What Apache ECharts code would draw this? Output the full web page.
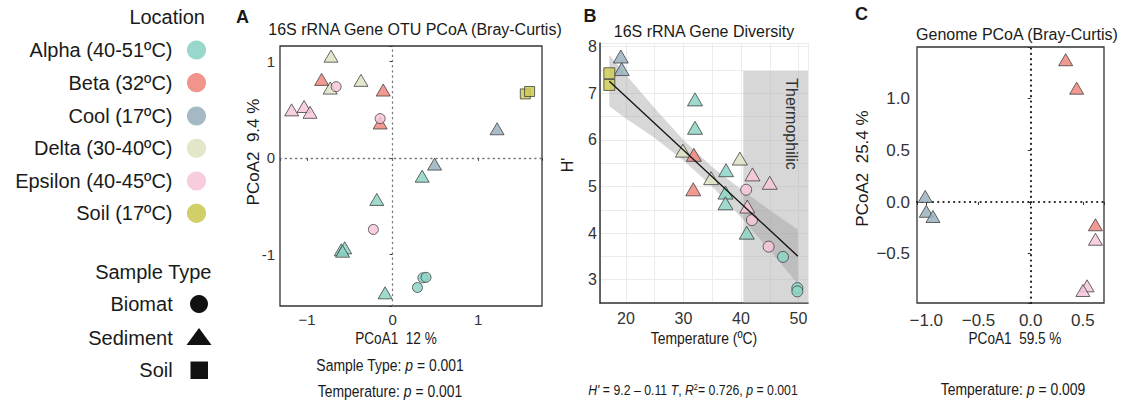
<!DOCTYPE html>
<html>
<head>
<meta charset="utf-8">
<script src="https://cdn.jsdelivr.net/npm/echarts@6/dist/echarts.min.js"></script>
<style>
  html, body { margin: 0; padding: 0; background: #ffffff; }
  #chart { width: 1122px; height: 406px; }
</style>
</head>
<body>
<div id="chart"></div>
<script>
// ---------- categories ----------
const locationKeys = ['Alpha', 'Beta', 'Cool', 'Delta', 'Epsilon', 'Soil'];
const locationLabels = ['Alpha (40-51ºC)', 'Beta (32ºC)', 'Cool (17ºC)', 'Delta (30-40ºC)', 'Epsilon (40-45ºC)', 'Soil (17ºC)'];
const sampleTypes = ['Biomat', 'Sediment', 'Soil'];

// ---------- A: 16S rRNA gene OTU PCoA ----------
const otuLocation = ['Delta', 'Beta', 'Delta', 'Epsilon', 'Delta', 'Beta', 'Epsilon', 'Epsilon', 'Epsilon', 'Beta', 'Epsilon',
  'Alpha', 'Epsilon', 'Alpha', 'Alpha', 'Alpha', 'Alpha', 'Alpha', 'Alpha', 'Alpha', 'Alpha', 'Cool', 'Cool', 'Soil', 'Soil'];
const otuType = ['Sediment', 'Sediment', 'Sediment', 'Biomat', 'Sediment', 'Sediment', 'Sediment', 'Sediment', 'Sediment', 'Sediment', 'Biomat',
  'Sediment', 'Biomat', 'Sediment', 'Sediment', 'Sediment', 'Sediment', 'Biomat', 'Biomat', 'Biomat', 'Sediment', 'Sediment', 'Sediment', 'Soil', 'Soil'];
const otuPCoA1 = [-0.72, -0.83, -0.73, -0.66, -0.37, -0.11, -1.18, -1.035, -0.965, -0.146, -0.146,
  -0.185, -0.225, -0.60, -0.56, -0.585, -0.088, 0.353, 0.39, 0.29, 0.345, 0.49, 1.22, 1.55, 1.60];
const otuPCoA2 = [1.05, 0.81, 0.72, 0.735, 0.80, 0.70, 0.495, 0.53, 0.47, 0.36, 0.405,
  -0.43, -0.74, -0.95, -0.93, -0.965, -1.395, -1.24, -1.235, -1.34, -0.19, -0.065, 0.30, 0.66, 0.685];
const otuTicksX = [-1, 0, 1];
const otuTicksY = [-1, 0, 1];

// ---------- B: 16S rRNA gene diversity vs temperature ----------
const divLocation = ['Cool', 'Cool', 'Soil', 'Soil', 'Alpha', 'Alpha', 'Delta', 'Beta', 'Beta', 'Delta', 'Alpha', 'Delta',
  'Epsilon', 'Epsilon', 'Alpha', 'Alpha', 'Epsilon', 'Epsilon', 'Epsilon', 'Alpha', 'Epsilon', 'Alpha', 'Alpha', 'Alpha'];
const divType = ['Sediment', 'Sediment', 'Soil', 'Soil', 'Sediment', 'Sediment', 'Sediment', 'Sediment', 'Sediment', 'Sediment', 'Sediment', 'Sediment',
  'Sediment', 'Sediment', 'Sediment', 'Sediment', 'Biomat', 'Sediment', 'Biomat', 'Sediment', 'Biomat', 'Biomat', 'Biomat', 'Biomat'];
const divTemperature = [19.1, 19.25, 17.1, 17.1, 32.0, 32.0, 29.9, 31.8, 31.7, 34.8, 37.4, 39.8,
  42.0, 45.0, 37.3, 37.3, 40.9, 41.1, 41.9, 41.0, 44.8, 47.3, 49.8, 49.8];
const divShannon = [7.79, 7.52, 7.43, 7.18, 6.87, 6.26, 5.77, 5.68, 4.94, 5.18, 5.35, 5.60,
  5.26, 5.08, 4.87, 4.64, 4.93, 4.57, 4.28, 4.01, 3.71, 3.49, 2.82, 2.75];
const divTicksX = [20, 30, 40, 50];
const divTicksY = [3, 4, 5, 6, 7, 8];

// linear fit H' = a + b T and its confidence band
const fitIntercept = 9.22;
const fitSlope = -0.1146;
const fitR2 = 0.726;
const fitP = 0.001;
const fitTempRange = [17.1, 49.9];
const bandTemp  = [17.1, 20, 25, 30, 35, 40, 45, 49.9];
const bandUpper = [7.82, 7.40, 6.68, 6.00, 5.42, 4.94, 4.49, 4.07];
const bandLower = [6.72, 6.46, 6.04, 5.56, 5.00, 4.34, 3.63, 2.91];
// thermophilic range shading
const thermoStart = 40.4;
const thermoTop = 7.48;

// ---------- C: genome PCoA ----------
const genLocation = ['Beta', 'Beta', 'Cool', 'Cool', 'Cool', 'Beta', 'Epsilon', 'Epsilon', 'Epsilon'];
const genType = ['Sediment', 'Sediment', 'Sediment', 'Sediment', 'Sediment', 'Sediment', 'Sediment', 'Sediment', 'Sediment'];
const genPCoA1 = [0.335, 0.44, -1.01, -1.0, -0.936, 0.62, 0.62, 0.54, 0.50];
const genPCoA2 = [1.375, 1.10, 0.054, -0.09, -0.14, -0.22, -0.36, -0.81, -0.855];
const genTicksX = [-1, -0.5, 0, 0.5];
const genTicksY = [-0.5, 0, 0.5, 1];

// ---------- styling ----------
const locationColors = ['#8dd3c5', '#f0887e', '#9ab1be', '#e1e3c4', '#f7c6dc', '#cdca58'];
const typeSymbols = ['circle', 'triangle', 'rect'];
const FONT = "'Liberation Sans', Arial, Helvetica, sans-serif";
const INK = '#1a1a1a';
const NARROW_SCALE = 0.82;

function tickText(ticks, v, digits, minus) {
  const t = ticks.find(t => Math.abs(t - v) < 1e-6);
  if (t === undefined) return '';
  const s = Math.abs(t).toFixed(digits);
  return t < 0 ? minus + s : s;
}

const series = [];
function addScatter(axisIndex, locs, types, xs, ys, sizes) {
  const order = [];
  const groups = {};
  xs.forEach((x, i) => {
    const key = locs[i] + '|' + types[i];
    if (!groups[key]) { groups[key] = []; order.push(key); }
    groups[key].push([x, ys[i]]);
  });
  order.forEach(key => {
    const [loc, type] = key.split('|');
    const li = locationKeys.indexOf(loc);
    const ti = sampleTypes.indexOf(type);
    series.push({
      type: 'scatter', xAxisIndex: axisIndex, yAxisIndex: axisIndex,
      data: groups[key], symbol: typeSymbols[ti], symbolSize: sizes[ti],
      itemStyle: { color: locationColors[li], opacity: 0.85, borderColor: '#3a3a3a', borderWidth: 0.9 },
      z: 5, silent: true, animation: false
    });
  });
}

// dotted zero reference lines (A and C)
function zeroLines(axisIndex, style) {
  series.push({
    type: 'scatter', xAxisIndex: axisIndex, yAxisIndex: axisIndex, data: [], z: 2, silent: true,
    markLine: {
      silent: true, symbol: 'none', animation: false, label: { show: false },
      lineStyle: style,
      data: [{ xAxis: 0 }, { yAxis: 0 }]
    }
  });
}

zeroLines(0, { type: [1.2, 4], color: '#777', width: 1.3, cap: 'round' });
zeroLines(2, { type: [0.1, 5.2], color: '#222', width: 2.2, cap: 'round' });

// thermophilic shading (B)
series.push({
  type: 'scatter', xAxisIndex: 1, yAxisIndex: 1, data: [], z: 1, silent: true,
  markArea: {
    silent: true, animation: false, label: { show: false },
    itemStyle: { color: 'rgba(175,175,175,0.5)' },
    data: [[{ xAxis: thermoStart, yAxis: 2.5 }, { xAxis: 51.65, yAxis: thermoTop }]]
  }
});

// confidence band (B)
series.push({
  type: 'custom', xAxisIndex: 1, yAxisIndex: 1, data: [0], z: 3, silent: true, animation: false,
  renderItem: (params, api) => {
    const pts = [];
    bandTemp.forEach((t, i) => pts.push(api.coord([t, bandUpper[i]])));
    for (let i = bandTemp.length - 1; i >= 0; i--) pts.push(api.coord([bandTemp[i], bandLower[i]]));
    return { type: 'polygon', shape: { points: pts }, style: { fill: 'rgba(150,150,150,0.38)' } };
  }
});

addScatter(0, otuLocation, otuType, otuPCoA1, otuPCoA2, [10, [14, 12], 10]);
addScatter(1, divLocation, divType, divTemperature, divShannon, [11, [15, 13], 11]);
addScatter(2, genLocation, genType, genPCoA1, genPCoA2, [10, [14, 12], 10]);

// regression line (B)
series.push({
  type: 'line', xAxisIndex: 1, yAxisIndex: 1, z: 10, silent: true, animation: false,
  symbol: 'none', lineStyle: { color: '#111', width: 1.3 },
  data: fitTempRange.map(t => [t, fitIntercept + fitSlope * t])
});

// ---------- axes ----------
const frameGrid = { show: true, borderColor: '#333', borderWidth: 1.3, backgroundColor: 'transparent' };
const grids = [
  Object.assign({ left: 280, top: 46, width: 262, height: 260 }, frameGrid),
  { left: 600, top: 43, width: 208, height: 260, show: false },
  Object.assign({ left: 917, top: 47, width: 187, height: 256 }, frameGrid)
];

function frameAxis(extra) {
  return Object.assign({
    type: 'value',
    axisLine: { show: false },
    axisTick: { show: true, length: 3, lineStyle: { color: '#333', width: 1 } },
    splitLine: { show: false }
  }, extra);
}

const xAxes = [
  frameAxis({ gridIndex: 0, min: -1.316, max: 1.745, minInterval: 1, maxInterval: 1,
    axisLabel: { fontSize: 15, color: '#333', fontFamily: FONT, margin: 6, formatter: v => tickText(otuTicksX, v, 0, '−') } }),
  { gridIndex: 1, type: 'value', min: 15.48, max: 51.65, minInterval: 5, maxInterval: 5,
    axisLine: { show: true, lineStyle: { color: '#333', width: 1.5 } },
    axisTick: { show: false },
    splitLine: { show: true, lineStyle: { color: '#ebebeb', width: 1 } },
    axisLabel: { fontSize: 16, color: '#333', fontFamily: FONT, margin: 7, formatter: v => tickText(divTicksX, v, 0, '−') } },
  frameAxis({ gridIndex: 2, min: -1.089, max: 0.702, minInterval: 0.5, maxInterval: 0.5,
    axisLabel: { fontSize: 17, color: '#333', fontFamily: FONT, margin: 9, formatter: v => tickText(genTicksX, v, 1, '−') } })
];
const yAxes = [
  frameAxis({ gridIndex: 0, min: -1.531, max: 1.155, minInterval: 1, maxInterval: 1,
    axisLabel: { fontSize: 15, color: '#333', fontFamily: FONT, margin: 5, formatter: v => tickText(otuTicksY, v, 0, '-') } }),
  { gridIndex: 1, type: 'value', min: 2.5, max: 8.08, minInterval: 0.5, maxInterval: 0.5,
    axisLine: { show: true, lineStyle: { color: '#333', width: 1.5 } },
    axisTick: { show: false },
    splitLine: { show: true, lineStyle: { color: '#ebebeb', width: 1 } },
    axisLabel: { fontSize: 16, color: '#333', fontFamily: FONT, margin: 3, formatter: v => tickText(divTicksY, v, 0, '−') } },
  frameAxis({ gridIndex: 2, min: -0.976, max: 1.498, minInterval: 0.5, maxInterval: 0.5,
    axisLabel: { fontSize: 17, color: '#333', fontFamily: FONT, margin: 7, formatter: v => tickText(genTicksY, v, 1, '−') } })
];

// ---------- texts and legend ----------
function text(str, x, y, o) {
  o = o || {};
  return {
    type: 'text', x: x, y: y, rotation: o.rot || 0, scaleX: o.sx || 1, silent: true, z: 20,
    style: {
      text: str, x: 0, y: 0,
      fill: o.color || INK,
      fontSize: o.size || 16,
      fontFamily: FONT,
      fontWeight: o.weight || 'normal',
      align: o.align || 'center', verticalAlign: 'middle',
      rich: o.rich
    }
  };
}
function richStyles(size) {
  return {
    n: { fontSize: size, fontFamily: FONT, fill: INK, verticalAlign: 'bottom' },
    i: { fontSize: size, fontFamily: FONT, fill: INK, fontStyle: 'italic', verticalAlign: 'bottom' },
    sup: { fontSize: Math.round(size * 0.62), fontFamily: FONT, fill: INK, verticalAlign: 'top' }
  };
}

const graphics = [];
// legend: location
graphics.push(text('Location', 205, 16.5, { size: 20, align: 'right' }));
const legendRowsY = [50, 82.7, 116, 148.3, 181, 213.3];
locationLabels.forEach((lab, i) => {
  graphics.push(text(lab, 172.5, legendRowsY[i], { size: 20, align: 'right' }));
  graphics.push({ type: 'circle', silent: true, shape: { cx: 196.5, cy: legendRowsY[i], r: 9.6 },
    style: { fill: locationColors[i], opacity: 0.9 } });
});
// legend: sample type
graphics.push(text('Sample Type', 211.5, 271.7, { size: 20, align: 'right' }));
const typeRowsY = [304, 337.7, 370];
sampleTypes.forEach((lab, i) => {
  graphics.push(text(lab, 172.7, typeRowsY[i], { size: 20, align: 'right' }));
});
graphics.push({ type: 'circle', silent: true, shape: { cx: 199, cy: typeRowsY[0], r: 9 }, style: { fill: '#111' } });
graphics.push({ type: 'polygon', silent: true, shape: { points: [[199, 328], [211.5, 345], [186.5, 345]] }, style: { fill: '#111' } });
graphics.push({ type: 'rect', silent: true, shape: { x: 190.5, y: 361.5, width: 17.5, height: 17.5 }, style: { fill: '#111' } });

// panel letters
graphics.push(text('A', 242.5, 16.5, { size: 18, weight: 'bold' }));
graphics.push(text('B', 590, 16, { size: 18, weight: 'bold' }));
graphics.push(text('C', 861.5, 14, { size: 18, weight: 'bold' }));

// panel titles
graphics.push(text('16S rRNA Gene OTU PCoA (Bray-Curtis)', 415, 29.5, { size: 16 }));
graphics.push(text('16S rRNA Gene Diversity', 704, 31, { size: 16 }));
graphics.push(text('Genome PCoA (Bray-Curtis)', 1017, 34, { size: 16 }));

// axis titles
graphics.push(text('PCoA2  9.4 %', 253, 152, { size: 17, rot: Math.PI / 2 }));
graphics.push(text("H'", 567, 165, { size: 16, rot: Math.PI / 2 }));
graphics.push(text('PCoA2  25.4 %', 862.5, 168.5, { size: 17, rot: Math.PI / 2 }));
graphics.push(text('PCoA1  12 %', 396, 338, { size: 17, sx: 0.8 }));
graphics.push(text('Temperature (ºC)', 704, 338, { size: 17, sx: NARROW_SCALE }));
graphics.push(text('PCoA1  59.5 %', 1015, 338, { size: 17, sx: 0.8 }));

// shaded range label
graphics.push(text('Thermophilic', 791.5, 124, { size: 16, color: '#333', rot: -Math.PI / 2 }));

// statistics
const rs = richStyles(17);
const rsSmall = richStyles(15);
graphics.push(text('{n|Sample Type: }{i|p}{n| = 0.001}', 390, 365, { rich: rs, sx: NARROW_SCALE }));
graphics.push(text('{n|Temperature: }{i|p}{n| = 0.001}', 390, 391, { rich: rs, sx: NARROW_SCALE }));
graphics.push(text('{i|H\'}{n| = ' + fitIntercept.toFixed(1) + ' – ' + Math.abs(fitSlope).toFixed(2) + ' }{i|T}{n|, }{i|R}{sup|2}{n|= ' +
  fitR2.toFixed(3) + ', }{i|p}{n| = ' + fitP.toFixed(3) + '}', 693, 390, { rich: rsSmall, sx: NARROW_SCALE }));
graphics.push(text('{n|Temperature: }{i|p}{n| = 0.009}', 1013, 389, { rich: rs, sx: NARROW_SCALE }));

const chart = echarts.init(document.getElementById('chart'), null, { renderer: 'svg' });
chart.setOption({
  animation: false,
  backgroundColor: '#ffffff',
  grid: grids,
  xAxis: xAxes,
  yAxis: yAxes,
  series: series,
  graphic: graphics
});
</script>
</body>
</html>
